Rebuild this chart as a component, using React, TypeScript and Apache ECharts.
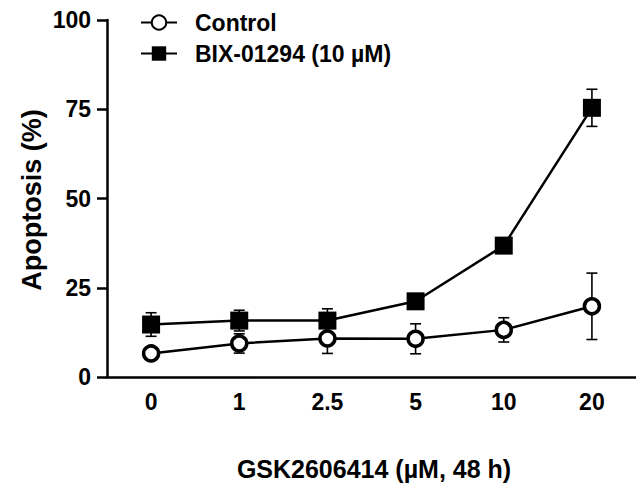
import React, { useEffect, useRef } from "react";
import * as echarts from "echarts";

const categories = ["0", "1", "2.5", "5", "10", "20"];
const controlMean = [6.6, 9.4, 10.8, 10.7, 13.2, 19.8];
const controlErr = [1.0, 2.7, 4.2, 4.2, 3.4, 9.3];
const bixMean = [14.7, 15.8, 15.8, 21.2, 36.8, 75.4];
const bixErr = [3.3, 2.9, 3.3, 0.8, 0.8, 5.2];
const yTicks = [0, 25, 50, 75, 100];

const FONT = "'Liberation Sans', Arial, Helvetica, sans-serif";

function errorSeries(means: number[], errs: number[], z: number) {
  const data = means.map((m, i) => [i, m - errs[i], m + errs[i]]);
  return {
    type: "custom",
    silent: true,
    z,
    data,
    renderItem: (params: any, api: any) => {
      const i = api.value(0);
      const lo = api.coord([i, api.value(1)]);
      const hi = api.coord([i, api.value(2)]);
      const w = 5.5;
      const style = { stroke: "#000", lineWidth: 1.6 };
      return {
        type: "group",
        children: [
          { type: "line", shape: { x1: lo[0], y1: lo[1], x2: hi[0], y2: hi[1] }, style },
          { type: "line", shape: { x1: hi[0] - w, y1: hi[1], x2: hi[0] + w, y2: hi[1] }, style },
          { type: "line", shape: { x1: lo[0] - w, y1: lo[1], x2: lo[0] + w, y2: lo[1] }, style },
        ],
      };
    },
  };
}

export default function App() {
  const ref = useRef<HTMLDivElement>(null);
  useEffect(() => {
    if (!ref.current) return;
    const chart = echarts.init(ref.current, null, { renderer: "svg" });
    chart.setOption({
      animation: false,
      backgroundColor: "#fff",
      textStyle: { fontFamily: FONT },
      grid: { left: 107, right: -7, top: 20, bottom: 110, containLabel: false },
      legend: {
        orient: "vertical",
        left: 135,
        top: 6,
        itemWidth: 36,
        itemHeight: 18,
        itemGap: 8,
        data: ["Control", "BIX-01294 (10 µM)"],
        textStyle: {
          fontFamily: FONT,
          fontWeight: "bold",
          fontSize: 23,
          lineHeight: 18,
          color: "#000",
          padding: [0, 0, 0, 13],
        },
      },
      xAxis: {
        type: "category",
        data: categories,
        boundaryGap: true,
        axisLine: { lineStyle: { color: "#000", width: 2.5 } },
        axisTick: { alignWithLabel: true, length: 9, lineStyle: { color: "#000", width: 2.5 } },
        axisLabel: { color: "#000", fontWeight: "bold", fontSize: 23, fontFamily: FONT, margin: 13 },
        splitLine: { show: false },
      },
      yAxis: {
        type: "value",
        min: yTicks[0],
        max: yTicks[yTicks.length - 1],
        interval: 25,
        axisLine: { show: true, lineStyle: { color: "#000", width: 2.5 } },
        axisTick: { show: true, length: 10, lineStyle: { color: "#000", width: 2.5 } },
        axisLabel: { color: "#000", fontWeight: "bold", fontSize: 23, fontFamily: FONT, margin: 16 },
        splitLine: { show: false },
      },
      graphic: [
        {
          type: "text",
          x: 32,
          y: 200,
          rotation: Math.PI / 2,
          style: {
            text: "Apoptosis (%)",
            fontFamily: FONT,
            fontWeight: "bold",
            fontSize: 27,
            fill: "#000",
            textAlign: "center",
            textVerticalAlign: "middle",
          },
        },
        {
          type: "text",
          x: 374,
          y: 469,
          style: {
            text: "GSK2606414 (µM, 48 h)",
            fontFamily: FONT,
            fontWeight: "bold",
            fontSize: 25,
            fill: "#000",
            textAlign: "center",
            textVerticalAlign: "middle",
          },
        },
      ],
      series: [
        errorSeries(bixMean, bixErr, 1),
        errorSeries(controlMean, controlErr, 1),
        {
          name: "BIX-01294 (10 µM)",
          type: "line",
          data: bixMean,
          z: 3,
          symbol: "rect",
          symbolSize: 18,
          lineStyle: { color: "#000", width: 2.5 },
          itemStyle: { color: "#000", borderColor: "#000", borderWidth: 0 },
        },
        {
          name: "Control",
          type: "line",
          data: controlMean,
          z: 4,
          symbol: "circle",
          symbolSize: 15,
          lineStyle: { color: "#000", width: 2.5 },
          itemStyle: { color: "#fff", borderColor: "#000", borderWidth: 3.5 },
        },
      ],
    });
    return () => chart.dispose();
  }, []);
  return (
    <div
      ref={ref}
      style={{ position: "fixed", left: 0, top: 0, width: 636, height: 487 }}
    />
  );
}
